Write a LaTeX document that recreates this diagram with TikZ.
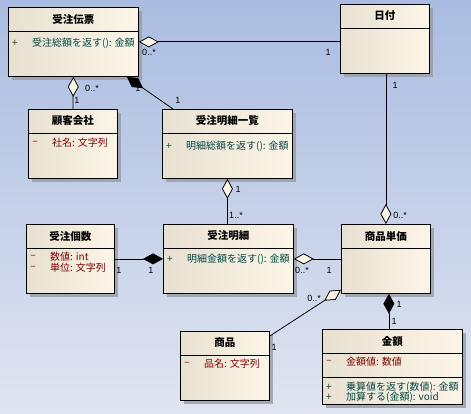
\documentclass[tikz,border=0pt]{standalone}
\usepackage{fontspec}
\setmainfont{Noto Sans CJK JP}
\newfontfamily\labfont{Liberation Sans}
\usetikzlibrary{arrows.meta,calc,shadows}
\definecolor{bgtop}{RGB}{170,188,225}
\definecolor{bgbot}{RGB}{224,229,241}
\definecolor{boxl}{RGB}{232,224,208}
\definecolor{boxr}{RGB}{253,246,232}
\definecolor{opc}{RGB}{0,72,72}
\definecolor{atc}{RGB}{128,0,0}
\definecolor{shd}{RGB}{150,155,165}
\tikzset{
  cbox/.style={draw=black, line width=0.8pt, inner sep=0pt, anchor=north west,
    left color=boxl, right color=boxr,
    drop shadow={shadow xshift=4pt, shadow yshift=-4pt, fill=shd, opacity=0.8}},
  ctitle/.style={font=\fontsize{10.5}{11}\selectfont\bfseries, inner sep=0pt},
  mem/.style={font=\fontsize{10}{11}\selectfont, inner sep=0pt},
  lab/.style={font=\labfont\fontsize{9}{9}\selectfont, inner sep=0pt},
  conn/.style={line width=0.8pt},
  hdia/.style={{Diamond[length=20pt,width=11pt,fill=boxr]}-},
  fdia/.style={{Diamond[length=20pt,width=11pt,fill=black]}-},
}
\newcommand\umlbox[6]{%
  \node[cbox, minimum width=#4pt, minimum height=#5pt] (#1) at (#2,#3) {};
  \draw[line width=0.8pt] ($(#1.north west)+(0,24)$) -- ($(#1.north east)+(0,24)$);
  \node[ctitle] at ($(#1.north)+(0,12)$) {#6};
}
\newcommand\umlmem[5]{%
  \node[mem, text=#5] at ($(#1.north west)+(7,#2)$) {#3};
  \node[mem, text=#5, anchor=west] at ($(#1.north west)+(24,#2)$) {#4};
}
\begin{document}
\begin{tikzpicture}[x=1pt,y=-1pt]
\useasboundingbox (0,0) rectangle (471,414);
\fill[top color=bgtop, bottom color=bgbot] (0,0) rectangle (471,414);

\umlbox{A}{8}{7}{130}{69}{受注伝票}
\umlmem{A}{36}{+}{受注総額を返す(): 金額}{opc}
\umlbox{B}{340}{4}{89}{69}{日付}
\umlbox{C}{28}{109}{89}{69}{顧客会社}
\umlmem{C}{34}{–}{社名: 文字列}{atc}
\umlbox{D}{162}{109}{130}{69}{受注明細一覧}
\umlmem{D}{37}{+}{明細総額を返す(): 金額}{opc}
\umlbox{E}{26}{224}{88}{69}{受注個数}
\umlmem{E}{33}{–}{数値: int}{atc}
\umlmem{E}{44}{–}{単位: 文字列}{atc}
\umlbox{F}{163}{224}{130}{69}{受注明細}
\umlmem{F}{35}{+}{明細金額を返す(): 金額}{opc}
\umlbox{G}{341}{224}{89}{69}{商品単価}
\umlbox{H}{180}{331}{89}{69}{商品}
\umlmem{H}{33}{–}{品名: 文字列}{atc}
\umlbox{I}{322}{329}{140}{75}{金額}
\draw[line width=0.8pt] ($(I.north west)+(0,48)$) -- ($(I.north east)+(0,48)$);
\umlmem{I}{33}{–}{金額値: 数値}{atc}
\umlmem{I}{58}{+}{乗算値を返す(数値): 金額}{opc}
\umlmem{I}{68}{+}{加算する(金額): void}{opc}

% connectors
\draw[conn,hdia] (A.east) -- (A.east -| B.west);
\draw[conn,hdia] (A.south) -- (C.north);
\coordinate (a3) at ($(A.south east)+(-12,0)$);
\coordinate (d3) at ($(D.north west)+(11,0)$);
\draw[conn,fdia] (a3) -- (d3);
\draw[conn,hdia] (D.south) -- (D.south |- F.north);
\draw[conn,hdia] (G.north) -- (G.north |- B.south);
\draw[conn,fdia] (F.west |- E.east) -- (E.east);
\draw[conn,hdia] (F.east) -- (F.east -| G.west);
\coordinate (g8) at ($(G.south west)+(0,-4)$);
\coordinate (h8) at ($(H.north east)+(0,5)$);
\draw[conn,hdia] (g8) -- (h8);
\coordinate (g9) at ($(G.south)+(3,0)$);
\draw[conn,fdia] (g9) -- (g9 |- I.north);

% multiplicities
\node[lab] at (149,52) {0..*};
\node[lab] at (328,52) {1};
\node[lab] at (92,88) {0..*};
\node[lab] at (77,100) {1};
\node[lab] at (138,88) {1};
\node[lab] at (178,100) {1};
\node[lab] at (238,189) {1};
\node[lab] at (236,215) {1..*};
\node[lab] at (395,85) {1};
\node[lab] at (400,215) {0..*};
\node[lab] at (119,270) {1};
\node[lab] at (151,270) {1};
\node[lab] at (302,270) {0..*};
\node[lab] at (329,270) {1};
\node[lab] at (314,298) {0..*};
\node[lab] at (274,347) {1};
\node[lab] at (399,304) {1};
\node[lab] at (394,321) {1};
\end{tikzpicture}
\end{document}
